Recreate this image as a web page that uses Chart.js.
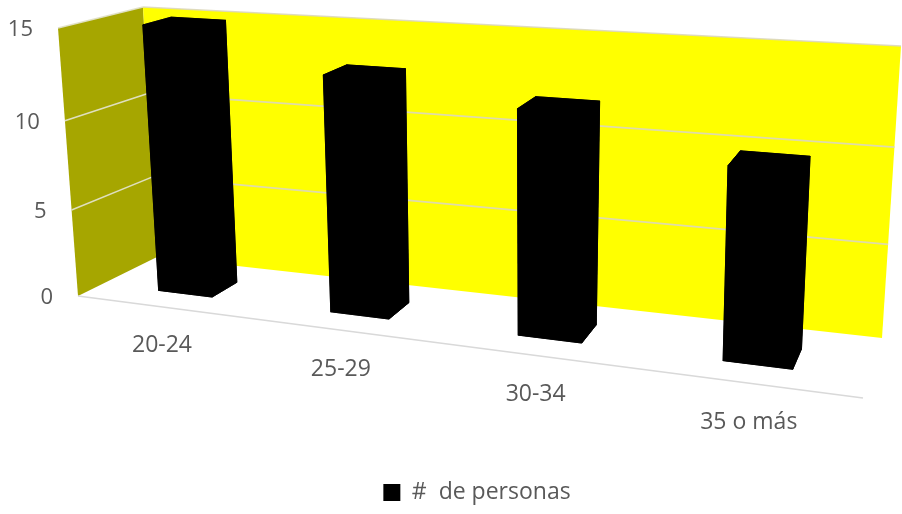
<!DOCTYPE html>
<html><head><meta charset="utf-8">
<script src="https://cdn.jsdelivr.net/npm/chart.js@4.4.1/dist/chart.umd.min.js"></script>
<style>html,body{margin:0;padding:0;background:#fff;}#wrap{width:902px;height:514px;position:relative;}</style>
</head><body><div id="wrap"><canvas id="c"></canvas></div>
<script>
// ---- data ----
const categories = ['20-24', '25-29', '30-34', '35 o más'];
const personas = [15, 13, 12, 10];
const yTicks = [0, 5, 10, 15];
const seriesLabel = '#  de personas';

// ---- 3D view layout (screen corners of the plot box) ----
const CORNERS = {
  flb: [78, 296], flt: [58, 28], blb: [157, 257], blt: [143, 7],
  frb: [863, 398], frt: [874, 84], brb: [882, 338], brt: [901, 46]
};
const PERSP_U = 1.192, PERSP_V = 1.06;
const DEPTH_FRONT = 0.32, DEPTH_BACK = 0.67;
const TEXT_COLOR = '#595959';
const FONT = '"Open Sans", "DejaVu Sans", sans-serif';

function lerp(a, b, t) { return [a[0] + (b[0] - a[0]) * t, a[1] + (b[1] - a[1]) * t]; }
function project(t, s, d) {
  const u = t / (t + PERSP_U * (1 - t));
  const v = s / (s + PERSP_V * (1 - s));
  const C = CORNERS;
  const b0 = lerp(lerp(C.flb, C.frb, u), lerp(C.blb, C.brb, u), d);
  const b1 = lerp(lerp(C.flt, C.frt, u), lerp(C.blt, C.brt, u), d);
  return lerp(b0, b1, v);
}
function poly(ctx, pts, fill, stroke) {
  ctx.beginPath();
  pts.forEach((p, i) => i ? ctx.lineTo(p[0], p[1]) : ctx.moveTo(p[0], p[1]));
  ctx.closePath();
  ctx.fillStyle = fill; ctx.fill();
  if (stroke) { ctx.strokeStyle = stroke; ctx.lineWidth = 0.8; ctx.stroke(); }
}
function seg(ctx, a, b, color, w) {
  ctx.beginPath(); ctx.moveTo(a[0], a[1]); ctx.lineTo(b[0], b[1]);
  ctx.strokeStyle = color; ctx.lineWidth = w; ctx.stroke();
}

const scene3d = {
  id: 'scene3d',
  beforeDatasetsDraw(chart) {
    const ctx = chart.ctx, area = chart.chartArea;
    const ys = chart.scales.y, xs = chart.scales.x;
    const sOf = v => (area.bottom - ys.getPixelForValue(v)) / area.height;
    ctx.save();
    // side wall
    poly(ctx, [project(0, 0, 0), project(0, 0, 1), project(0, 1, 1), project(0, 1, 0)], '#A6A600');
    // back wall
    poly(ctx, [project(0, 0, 1), project(1, 0, 1), project(1, 1, 1), project(0, 1, 1)], '#FFFF00');
    // gridlines
    yTicks.forEach(v => {
      if (v === ys.min) return;
      const s = sOf(v);
      seg(ctx, project(0, s, 0), project(0, s, 1), 'rgba(225,225,200,0.95)', 1.6);
      seg(ctx, project(0, s, 1), project(1, s, 1), 'rgba(220,215,190,0.9)', 1.6);
    });
    // floor front edge
    seg(ctx, project(0, 0, 0), project(1, 0, 0), '#D9D9D9', 1.5);
    // y tick labels
    ctx.fillStyle = TEXT_COLOR;
    ctx.font = '22px ' + FONT;
    ctx.textAlign = 'right'; ctx.textBaseline = 'middle';
    yTicks.forEach(v => {
      const p = project(0, sOf(v), 0);
      ctx.fillText(String(v), p[0] - 25, p[1] + 2);
    });
    // category labels
    ctx.font = '23px ' + FONT;
    ctx.textAlign = 'center';
    categories.forEach((c, i) => {
      const t = (xs.getPixelForValue(i) - area.left) / area.width;
      const p = project(t, 0, 0);
      ctx.fillText(c, p[0], p[1] + 39);
    });
    ctx.restore();
  },
  beforeDatasetDraw() { return false; },
  afterDatasetsDraw(chart) {
    const ctx = chart.ctx, area = chart.chartArea;
    const meta = chart.getDatasetMeta(0);
    ctx.save();
    meta.data.forEach(el => {
      const { x, y, base, width } = el.getProps(['x', 'y', 'base', 'width'], true);
      const tL = (x - width / 2 - area.left) / area.width;
      const tR = (x + width / 2 - area.left) / area.width;
      const sT = (area.bottom - y) / area.height;
      const sB = (area.bottom - base) / area.height;
      const P = (t, s, d) => project(t, s, d);
      const f = DEPTH_FRONT, b = DEPTH_BACK, col = '#000000';
      poly(ctx, [P(tL, sB, b), P(tR, sB, b), P(tR, sT, b), P(tL, sT, b)], col, col);
      poly(ctx, [P(tL, sB, f), P(tL, sB, b), P(tL, sT, b), P(tL, sT, f)], col, col);
      poly(ctx, [P(tR, sB, f), P(tR, sB, b), P(tR, sT, b), P(tR, sT, f)], col, col);
      poly(ctx, [P(tL, sB, f), P(tR, sB, f), P(tR, sB, b), P(tL, sB, b)], col, col);
      poly(ctx, [P(tL, sT, f), P(tR, sT, f), P(tR, sT, b), P(tL, sT, b)], col, col);
      poly(ctx, [P(tL, sB, f), P(tR, sB, f), P(tR, sT, f), P(tL, sT, f)], col, col);
    });
    ctx.restore();
  }
};

new Chart(document.getElementById('c'), {
  type: 'bar',
  data: {
    labels: categories,
    datasets: [{
      label: seriesLabel,
      data: personas,
      backgroundColor: '#000000',
      borderWidth: 0,
      categoryPercentage: 0.8,
      barPercentage: 0.4
    }]
  },
  options: {
    responsive: true,
    maintainAspectRatio: false,
    animation: false,
    layout: { padding: { left: 52 } },
    scales: {
      x: { display: false, offset: true },
      y: { display: false, min: 0, max: 15 }
    },
    plugins: {
      legend: {
        position: 'bottom',
        labels: {
          boxWidth: 17, boxHeight: 17, padding: 4,
          color: TEXT_COLOR,
          font: { family: FONT, size: 23 }
        }
      },
      tooltip: { enabled: false }
    }
  },
  plugins: [scene3d]
});
</script>
</body></html>
